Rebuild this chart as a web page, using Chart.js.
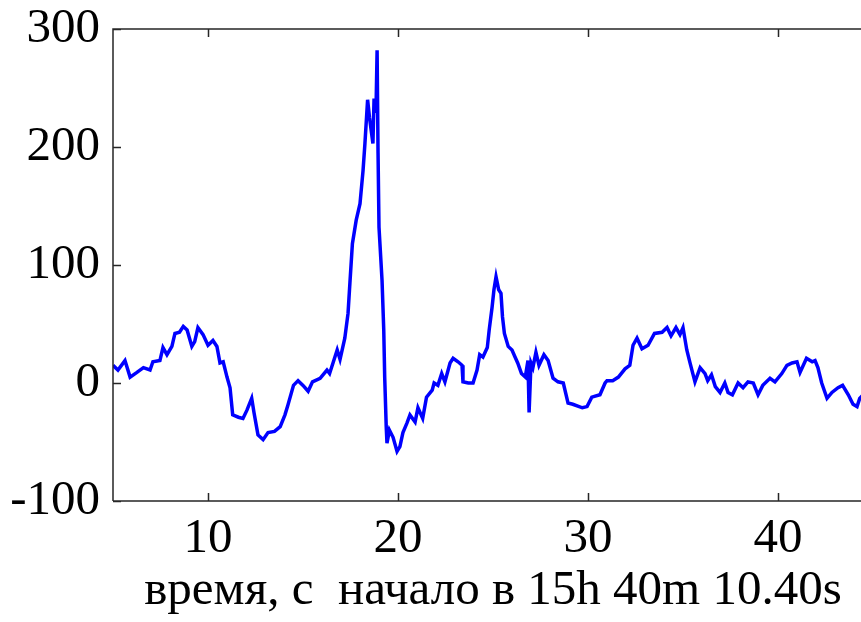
<!DOCTYPE html>
<html>
<head>
<meta charset="utf-8">
<script src="https://cdn.jsdelivr.net/npm/chart.js@4"></script>
<style>
  html, body { margin: 0; padding: 0; background: #fff; overflow: hidden; }
  #wrap { width: 880px; height: 622px; }
</style>
</head>
<body>
<div id="wrap"><canvas id="myChart" width="880" height="622"></canvas></div>
<script>
// время (с) и значения
const times = [
  5.0, 5.26, 5.63, 5.9, 6.26, 6.6, 6.95, 7.1, 7.47, 7.63, 7.84, 8.1, 8.26, 8.5, 8.7, 8.9,
  9.15, 9.3, 9.47, 9.74, 10.0, 10.26, 10.47, 10.63, 10.8, 11.0, 11.16, 11.3, 11.6, 11.84,
  12.05, 12.3, 12.42, 12.63, 12.9, 13.16, 13.5, 13.8, 14.05, 14.2, 14.5, 14.74, 15.0, 15.27,
  15.5, 15.9, 16.26, 16.4, 16.6, 16.8, 16.95, 17.2, 17.37, 17.47, 17.6, 17.8, 18.0, 18.16,
  18.26, 18.4, 18.5, 18.68, 18.74, 18.84, 18.9, 18.95, 19.0, 19.16, 19.25, 19.3, 19.38, 19.42,
  19.55, 19.74, 19.95, 20.1, 20.26, 20.47, 20.63, 20.9, 21.05, 21.3, 21.5, 21.8, 21.9, 22.1,
  22.3, 22.47, 22.74, 22.9, 23.16, 23.37, 23.42, 23.7, 23.95, 24.16, 24.3, 24.47, 24.7, 24.8,
  24.95, 25.05, 25.16, 25.3, 25.42, 25.5, 25.6, 25.8, 26.0, 26.16, 26.3, 26.5, 26.7, 26.84,
  26.9, 27.0, 27.1, 27.26, 27.42, 27.68, 27.9, 28.16, 28.42, 28.7, 28.95, 29.2, 29.7, 29.95,
  30.2, 30.63, 30.9, 31.0, 31.3, 31.6, 31.95, 32.2, 32.37, 32.58, 32.84, 33.16, 33.5, 33.9,
  34.16, 34.37, 34.63, 34.84, 35.0, 35.2, 35.37, 35.63, 35.9, 36.16, 36.3, 36.5, 36.7, 36.95,
  37.2, 37.37, 37.6, 37.9, 38.16, 38.42, 38.7, 38.95, 39.2, 39.58, 39.84, 40.2, 40.47, 40.74,
  41.0, 41.16, 41.5, 41.8, 41.95, 42.1, 42.3, 42.58, 42.84, 43.16, 43.4, 43.7, 43.95, 44.16,
  44.3, 44.6
];
const values = [
  15, 11, 19, 5, 9, 13, 11, 18, 19, 30, 24, 31, 42, 43, 48, 45,
  31, 35, 47, 41, 32, 36, 31, 17, 18, 5, -4, -27, -29, -30,
  -23, -13, -25, -44, -48, -42, -41, -37, -27, -19, -2, 2, -2, -7,
  1, 4, 11, 8, 18, 28, 20, 38, 59, 85, 118, 138, 152, 180,
  203, 240, 225, 203, 241, 229, 282, 195, 132, 87, 45, 5, -37, -51,
  -40, -46, -58, -54, -42, -34, -27, -33, -21, -30, -12, -6, 0, -2,
  8, 1, 17, 21, 18, 15, 1, 0, 0, 11, 24, 22, 30, 45,
  64, 79, 90, 79, 76, 56, 42, 31, 28, 22, 17, 8, 5, 19,
  -25, 17, 13, 26, 15, 24, 19, 4, 1, 0, -17, -18, -21, -20,
  -12, -10, 0, 2, 2, 5, 12, 15, 32, 38, 29, 32, 42, 43,
  47, 40, 47, 41, 47, 28, 17, 1, 13, 8, 2, 7, -3, -8,
  0, -8, -10, 0, -4, 1, 0, -10, -2, 4, 1, 8, 15, 17,
  18, 9, 21, 18, 19, 13, 0, -13, -8, -4, -2, -10, -18, -20,
  -13, -8
];
const xTicks = [10, 20, 30, 40];
const yTicks = [-100, 0, 100, 200, 300];
const xTitle = 'время, с  начало в 15h 40m 10.40s';

const serif = 'Liberation Serif';

// рамка и засечки внутрь, как в MATLAB
const frame = {
  id: 'frame',
  afterDraw(chart) {
    const c = chart.ctx;
    const a = chart.chartArea;
    const sx = chart.scales.x, sy = chart.scales.y;
    c.save();
    c.strokeStyle = '#262626';
    c.lineWidth = 1.5;
    c.beginPath();
    c.moveTo(a.left, a.bottom); c.lineTo(a.left, a.top); c.lineTo(a.right, a.top);
    c.lineTo(a.right, a.bottom); c.lineTo(a.left, a.bottom);
    xTicks.forEach(v => {
      const p = Math.round(sx.getPixelForValue(v)) + 0.5;
      c.moveTo(p, a.bottom); c.lineTo(p, a.bottom - 8);
      c.moveTo(p, a.top); c.lineTo(p, a.top + 8);
    });
    yTicks.forEach(v => {
      const p = Math.round(sy.getPixelForValue(v)) + 0.5;
      c.moveTo(a.left, p); c.lineTo(a.left + 8, p);
      c.moveTo(a.right, p); c.lineTo(a.right - 8, p);
    });
    c.stroke();
    c.restore();
  }
};

const ctx = document.getElementById('myChart').getContext('2d');
const myChart = new Chart(ctx, {
  type: 'line',
  data: {
    datasets: [{
      data: times.map((t, i) => ({ x: t, y: values[i] })),
      borderColor: '#0000ff',
      borderWidth: 3.5,
      pointRadius: 0,
      tension: 0,
      fill: false
    }]
  },
  options: {
    responsive: false,
    animation: false,
    events: [],
    layout: { padding: { top: 29, right: 7, left: 0, bottom: 0 } },
    plugins: { legend: { display: false }, tooltip: { enabled: false } },
    scales: {
      x: {
        type: 'linear',
        min: 5,
        max: 45,
        grid: { display: false, drawTicks: false },
        border: { display: false },
        afterBuildTicks: s => { s.ticks = xTicks.map(v => ({ value: v })); },
        afterFit: s => { s.height = 121; s.paddingLeft = 0; s.paddingRight = 0; },
        ticks: { color: '#000', padding: 9, font: { family: serif, size: 49 } },
        title: {
          display: true,
          text: xTitle,
          color: '#000',
          padding: { top: 0, bottom: 1 },
          font: { family: serif, size: 49 }
        }
      },
      y: {
        min: -100,
        max: 300,
        grid: { display: false, drawTicks: false },
        border: { display: false },
        afterBuildTicks: s => { s.ticks = yTicks.map(v => ({ value: v })); },
        afterFit: s => { s.width = 113; s.paddingTop = 0; s.paddingBottom = 0; },
        ticks: { color: '#000', padding: 13, font: { family: serif, size: 49 } }
      }
    }
  },
  plugins: [frame]
});
</script>
</body>
</html>
